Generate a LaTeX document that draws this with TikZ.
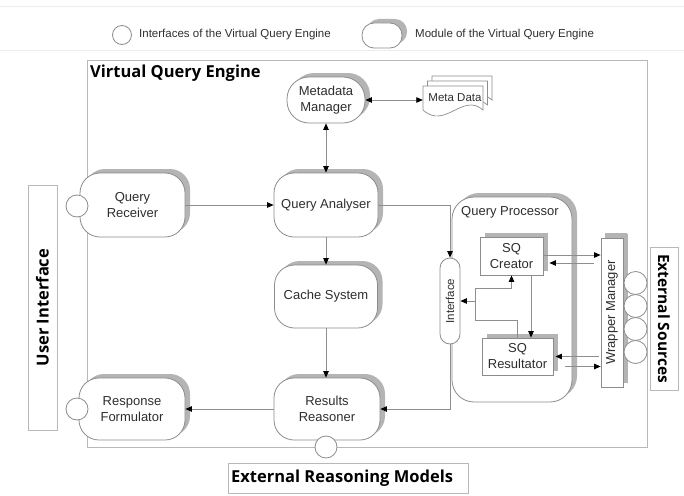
\documentclass[tikz,border=0pt]{standalone}
\usepackage{fontspec}
\setmainfont{Liberation Sans}
\newfontfamily\headfont{Open Sans}
\usetikzlibrary{arrows.meta,shadows,calc}

\definecolor{edge}{HTML}{8C8C8C}
\definecolor{frame}{HTML}{B8B8B8}
\definecolor{shade}{HTML}{B4B4B4}
\definecolor{wire}{HTML}{8E8E8E}
\definecolor{ink}{HTML}{2E2E2E}

\tikzset{
  module/.style={draw=edge, fill=white, line width=0.8pt, rounded corners=20pt,
    align=center, inner sep=0pt, text=ink, font=\fontsize{13}{16}\selectfont,
    drop shadow={shadow xshift=5pt, shadow yshift=4pt, opacity=1, fill=shade}},
  subbox/.style={draw=edge, fill=white, line width=0.8pt, align=center, inner sep=0pt,
    text=ink, font=\fontsize{13}{16}\selectfont,
    drop shadow={shadow xshift=4.5pt, shadow yshift=4.5pt, opacity=1, fill=shade}},
  port/.style={circle, draw=edge, fill=white, line width=0.8pt, minimum size=22pt, inner sep=0pt},
  labelbox/.style={draw=frame, fill=white, line width=0.9pt, inner sep=0pt},
  headtext/.style={font=\headfont\bfseries\fontsize{16.5}{19}\selectfont, inner sep=0pt},
  plain/.style={text=ink, font=\fontsize{13}{16}\selectfont, inner sep=0pt},
  small/.style={text=ink, font=\fontsize{11.5}{14}\selectfont, inner sep=0pt},
  wireline/.style={draw=wire, line width=0.8pt},
  flow/.style={wireline, -{Triangle[length=6.5pt,width=5.5pt,color=black]}},
  flowboth/.style={wireline, {Triangle[length=6.5pt,width=5.5pt,color=black]}-{Triangle[length=6.5pt,width=5.5pt,color=black]}},
  docsheet/.pic={
    \draw[draw=edge, fill=white, line width=0.7pt]
      (0,0) -- (60,0) -- (60,24) .. controls (40,6) and (22,44) .. (0,24) -- cycle;}
}

\begin{document}
\begin{tikzpicture}[x=1pt,y=-1pt]
\useasboundingbox (0,0) rectangle (684,495);

% ---- legend band ----
\draw[gray!15, line width=0.8pt] (0,6) -- (684,6) (0,50) -- (684,50);
\node[port, minimum size=19pt] (lgport) at (122,35) {};
\node[small, anchor=west] (lgporttext) at (139,35) {Interfaces of the Virtual Query Engine};
\node[module, minimum width=40pt, minimum height=25pt, rounded corners=12pt] (lgmod) at (382,35.5) {};
\node[small, anchor=west] (lgmodtext) at (415,35) {Module of the Virtual Query Engine};

% ---- engine frame ----
\node[draw=frame, line width=0.9pt, minimum width=560pt, minimum height=387pt, inner sep=0pt] (vqe) at (367,253.5) {};
\node[headtext, anchor=west] (vqetitle) at (90,73) {Virtual Query Engine};

% ---- outside parties ----
\node[labelbox, minimum width=29pt, minimum height=245pt] (ui) at (42.5,307.5) {};
\node[headtext, rotate=90] (uitext) at (ui.center) {User Interface};
\node[labelbox, minimum width=240pt, minimum height=30pt] (erm) at (348,478) {};
\node[headtext, anchor=west] (ermtext) at (231,478) {External Reasoning Models};
\node[labelbox, minimum width=28pt, minimum height=143pt] (es) at (664,318.5) {};
\node[headtext, font=\headfont\bfseries\fontsize{15.5}{18}\selectfont, rotate=-90] (estext) at (es.center) {External Sources};

% ---- engine modules ----
\node[module, minimum width=78pt, minimum height=46pt, rounded corners=22pt] (mdm) at (326,100) {Metadata\\Manager};
\node[module, minimum width=105pt, minimum height=64pt] (qrec) at (132.5,205) {Query\\Receiver};
\node[module, minimum width=104pt, minimum height=64pt] (qana) at (326,205) {Query Analyser};
\node[module, minimum width=103pt, minimum height=63pt] (cache) at (326,296.5) {Cache System};
\node[module, minimum width=106pt, minimum height=62pt] (rres) at (327,409) {Results\\Reasoner};
\node[module, minimum width=106pt, minimum height=62pt] (resp) at (132,409) {Response\\Formulator};

% interfaces of the engine
\node[port] (qrecport) at (77,206) {};
\node[port] (respport) at (77,409) {};
\node[port] (rresport) at (326,447) {};

% ---- meta data store ----
\pic at (432,76) {docsheet};
\pic at (427.5,81) {docsheet};
\pic at (423,86) {docsheet};
\node[small, minimum width=64pt, minimum height=24pt] (mdata) at (455,98) {Meta Data};

% ---- query processor ----
\node[module, minimum width=120pt, minimum height=205pt, rounded corners=22pt] (qp) at (512,299.5) {};
\node[plain] (qptext) at (510,212) {Query Processor};
\node[subbox, minimum width=63pt, minimum height=38pt] (sqc) at (511.5,256) {SQ\\Creator};
\node[subbox, minimum width=71pt, minimum height=37pt] (sqr) at (517.5,356.5) {SQ\\Resultator};
\node[draw=edge, fill=white, line width=0.8pt, rounded corners=10pt, minimum width=20pt, minimum height=86pt, inner sep=0pt] (iface) at (450,301) {};
\node[small, rotate=90] (ifacetext) at (iface.center) {Interface};

% ---- wrapper manager and its source interfaces ----
\node[subbox, minimum width=22pt, minimum height=149pt, drop shadow={shadow xshift=4pt, shadow yshift=5pt, opacity=1, fill=shade}] (wm) at (612,312.5) {};
\node[plain, rotate=90] (wmtext) at (wm.center) {Wrapper Manager};
\foreach \i/\yy in {1/283,2/306,3/329,4/352}
  \node[port, minimum size=23pt] (src\i) at (635.5,\yy) {};

% ---- connectors ----
\draw[flow] (qrec) -- (qana);
\draw[flowboth] (mdm) -- (qana);
\draw[flowboth] (mdm.east) -- (mdm.east -| mdata.west);
\draw[flow] (qana.south) -- (qana.south |- cache.north);
\draw[flow] (cache.south) -- (cache.south |- rres.north);
\draw[flow] (qana.east) -| (iface.north);
\draw[flow] (iface.south) |- (rres.east);
\draw[flow] (rres.west) -- (resp.east);

% creator / resultator exchange with the wrapper manager
\draw[flow] ([yshift=1pt]sqc.east) -- ([yshift=1pt]sqc.east -| wm.west);
\draw[flow] ([xshift=-7pt,yshift=-7pt]sqc.east -| wm.west) -- ([xshift=6pt,yshift=-7pt]sqc.east);
\draw[flow] ([xshift=-2pt]sqr.east -| wm.west) -- ([xshift=2pt]sqr.east);
\draw[flow] ([xshift=12pt,yshift=-10pt]sqr.east) -- ([yshift=-10pt]sqr.east -| wm.west);

% inside the query processor
\draw[flow] ([xshift=19.5pt]sqc.south) -- ([xshift=19.5pt]sqc.south |- sqr.north);
\coordinate (fbl) at (475,320);
\coordinate (fbu) at (475,288);
\draw[wireline] (sqr.north) |- (fbl) -- (fbu);
\draw[flow] (fbu) -| (sqc.south);
\draw[flow] (fbl |- iface.east) -- (iface.east);
\end{tikzpicture}
\end{document}
